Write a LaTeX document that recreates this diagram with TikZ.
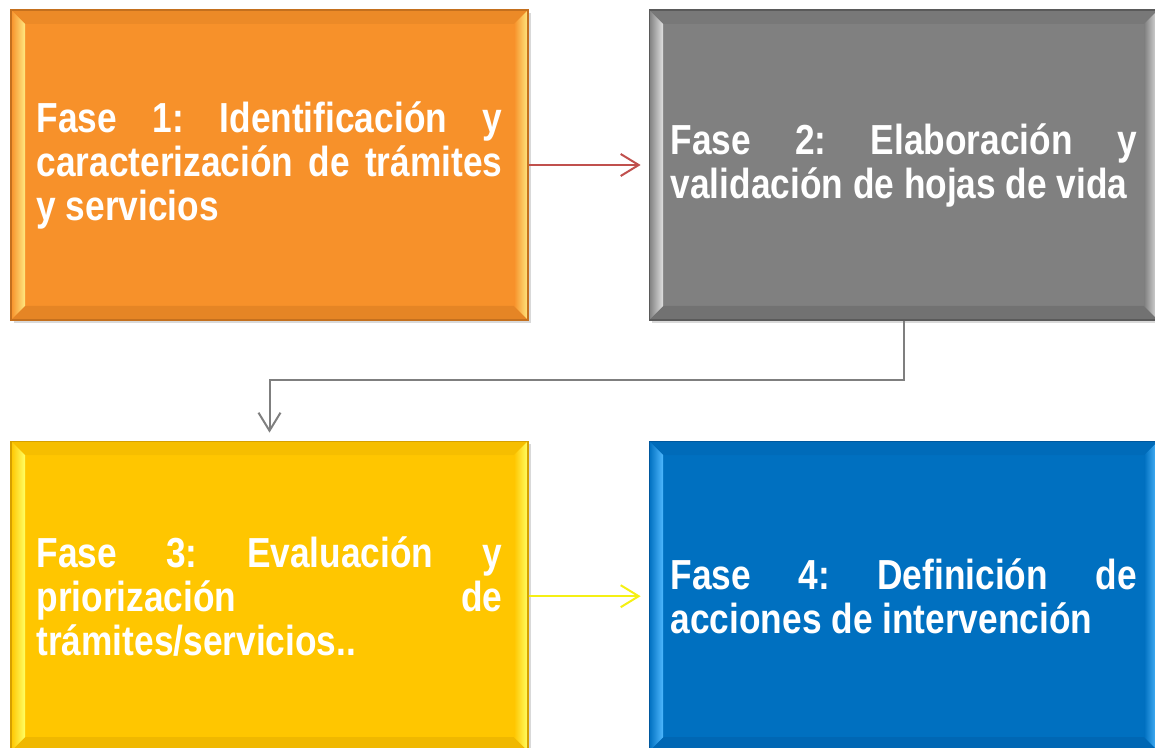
\documentclass[tikz,border=0pt]{standalone}
\usepackage{fontspec}
\setmainfont{Liberation Sans}[FakeStretch=0.84]
\usepackage{tikz}
\usetikzlibrary{positioning, calc, arrows.meta, shadows}

\definecolor{faseorange}{RGB}{247,145,42}
\definecolor{faseorangehi}{RGB}{255,232,128}
\definecolor{faseorangedk}{RGB}{196,112,30}
\definecolor{fasegray}{RGB}{128,128,128}
\definecolor{fasegrayhi}{RGB}{225,225,225}
\definecolor{fasegraydk}{RGB}{90,90,90}
\definecolor{faseyellow}{RGB}{255,198,0}
\definecolor{faseyellowhi}{RGB}{255,255,100}
\definecolor{faseyellowdk}{RGB}{214,160,0}
\definecolor{faseblue}{RGB}{0,112,192}
\definecolor{fasebluehi}{RGB}{80,185,255}
\definecolor{fasebluedk}{RGB}{0,88,158}
\definecolor{linkred}{RGB}{192,80,77}
\definecolor{linkgray}{RGB}{127,127,127}
\definecolor{linkyellow}{RGB}{245,240,20}

\hbadness=10000
\frenchspacing

\tikzset{
  fasebox/.style n args={3}{
    rectangle, fill=#1, draw=#3, line width=0.6pt,
    minimum width=258.5pt, minimum height=155pt,
    text width=233pt, align=justify, text=white,
    font=\bfseries\fontsize{21}{22}\selectfont,
    drop shadow={opacity=0.3, shadow xshift=1.5pt, shadow yshift=-1.5pt},
    path picture={
      \coordinate (bnw) at (path picture bounding box.north west);
      \coordinate (bne) at (path picture bounding box.north east);
      \coordinate (bsw) at (path picture bounding box.south west);
      \coordinate (bse) at (path picture bounding box.south east);
      % top and bottom bevel
      \fill[#3, opacity=0.2] (bnw) -- (bne) -- ($(bne)+(-7pt,-7pt)$) -- ($(bnw)+(7pt,-7pt)$) -- cycle;
      \fill[#3, opacity=0.35] (bsw) -- (bse) -- ($(bse)+(-7pt,7pt)$) -- ($(bsw)+(7pt,7pt)$) -- cycle;
      % left and right bevel
      \shade[left color=#1, right color=#2] (bnw) -- ($(bnw)+(7pt,-7pt)$) -- ($(bsw)+(7pt,7pt)$) -- (bsw) -- cycle;
      \shade[left color=#1, right color=#2] (bne) -- ($(bne)+(-7pt,-7pt)$) -- ($(bse)+(-7pt,7pt)$) -- (bse) -- cycle;
    }
  },
  link/.style={line width=1pt, -{Straight Barb[length=9pt, width=11pt]}, shorten >=4pt}
}

\begin{document}
\begin{tikzpicture}[x=0.5pt, y=-0.5pt]
  \useasboundingbox (0,0) rectangle (1155,748);

  % The four phases
  \node[fasebox={faseorange}{faseorangehi}{faseorangedk}] (fase1) at (269.5,165)
    {Fase 1: Identificación y\linebreak caracterización de trámites\linebreak y servicios};
  \node[fasebox={fasegray}{fasegrayhi}{fasegraydk}, minimum width=254.5pt, right=60pt of fase1] (fase2)
    {Fase 2: Elaboración y\linebreak validación de hojas de vida};
  \node[fasebox={faseyellow}{faseyellowhi}{faseyellowdk}, below=60pt of fase1] (fase3)
    {Fase 3: Evaluación y\linebreak priorización de\linebreak trámites/servicios..};
  \node[fasebox={faseblue}{fasebluehi}{fasebluedk}, minimum width=254.5pt, right=60pt of fase3] (fase4)
    {Fase 4: Definición de\linebreak acciones de intervención};

  % Connectors
  \coordinate (turn) at (0,380);
  \draw[link, linkred] (fase1) -- (fase2);
  \draw[link, linkgray] (fase2.south) -- (fase2.south |- turn) -| (fase3.north);
  \draw[link, linkyellow] (fase3) -- (fase4);
\end{tikzpicture}
\end{document}
